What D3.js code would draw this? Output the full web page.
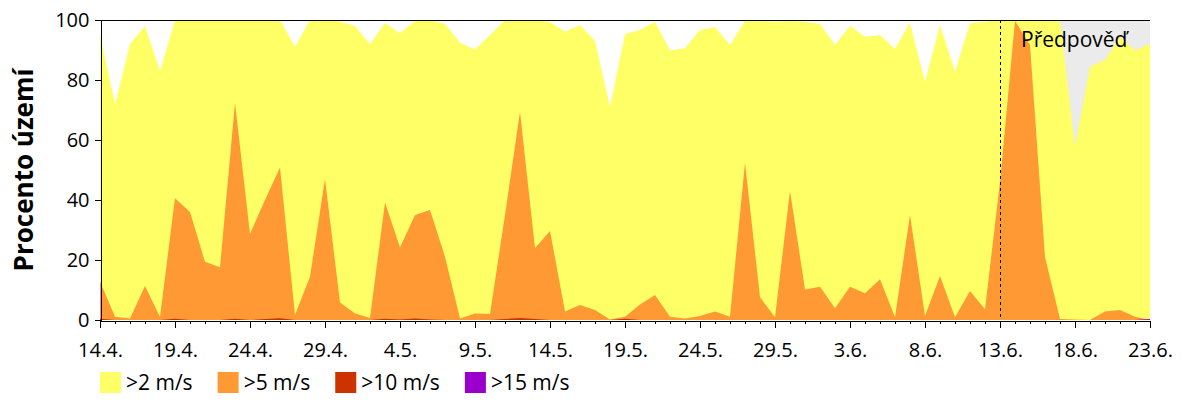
<!DOCTYPE html>
<html>
<head>
<meta charset="utf-8">
<script src="https://cdn.jsdelivr.net/npm/d3@7"></script>
<style>
body { margin: 0; background: #fff; }
svg { display: block; font-family: "Open Sans", sans-serif; }
</style>
</head>
<body>
<svg id="chart" width="1200" height="400"></svg>
<script>
// daily values, 14.4. - 23.6.
const days = d3.utcDay.range(new Date(Date.UTC(2020, 3, 14)), new Date(Date.UTC(2020, 5, 24)));
const forecastFrom = new Date(Date.UTC(2020, 5, 13));

const wind2 = [95, 72, 92, 98, 83, 100, 100, 100, 100, 100, 100, 100, 100, 91, 100, 100, 99.5, 98, 92, 99,
    95.6, 99.7, 100, 98.7, 92.4, 90.2, 95, 100, 100, 100, 99.3, 96.1, 98.3, 93, 71, 95.3, 96.7, 99.4, 89.8, 90.6,
    96.7, 97.6, 91.7, 99.7, 99.7, 99.4, 99.7, 99.4, 98.7, 91.7, 98, 94.4, 95, 90.3, 99.1, 79.4, 98.3, 82.8, 98.9, 99.4,
    100, 100, 100, 100, 100, 57.8, 84.4, 86.7, 94.4, 89.8, 92.2];
const wind5 = [12.8, 1.1, 0.5, 11.3, 1, 40.6, 36, 19.4, 17.6, 72.4, 28.7, 40, 50.8, 1.7, 14.4, 47, 5.8, 2.2, 0.7, 39.2,
    24.2, 35, 36.7, 21.1, 0.5, 2.2, 2, 35, 69.4, 23.9, 29.7, 2.8, 5, 3.3, 0.2, 1.1, 5.2, 8.3, 1.1, 0.5,
    1.3, 2.8, 1.1, 52.4, 7.6, 0.9, 43, 10.2, 11.1, 3.9, 11.1, 8.9, 13.6, 0.9, 35, 1.3, 14.7, 0.9, 9.7, 3.6,
    46, 99.7, 91.7, 21, 0.3, 0.2, 0, 2.8, 3.3, 1.1, 0];
const wind10 = [0.4, 0, 0, 0, 0, 0.4, 0, 0, 0, 0.4, 0, 0.3, 0.6, 0, 0, 0, 0, 0, 0, 0.4,
    0.2, 0.5, 0.2, 0, 0, 0, 0, 0.3, 0.7, 0.3, 0, 0, 0, 0, 0, 0.4, 0, 0, 0, 0,
    0, 0, 0, 0, 0, 0, 0, 0, 0, 0, 0, 0, 0, 0, 0, 0, 0, 0, 0, 0,
    0, 0, 0, 0, 0, 0, 0, 0, 0, 0, 0];
const wind15 = [0, 0, 0, 0, 0, 0, 0, 0, 0, 0, 0, 0, 0, 0, 0, 0, 0, 0, 0, 0,
    0, 0, 0, 0, 0, 0, 0, 0, 0, 0, 0, 0, 0, 0, 0, 0, 0, 0, 0, 0,
    0, 0, 0, 0, 0, 0, 0, 0, 0, 0, 0, 0, 0, 0, 0, 0, 0, 0, 0, 0,
    0, 0, 0, 0, 0, 0, 0, 0, 0, 0, 0.3];

const seriesLabels = [">2 m/s", ">5 m/s", ">10 m/s", ">15 m/s"];
const seriesColors = ["#ffff66", "#ff9933", "#cc3300", "#9900cc"];
const yTicks = [0, 20, 40, 60, 80, 100];

const series = [wind2, wind5, wind10, wind15].map((values, i) => ({
    label: seriesLabels[i], color: seriesColors[i], values
}));

const svg = d3.select("#chart");
const x = d3.scaleUtc().domain(d3.extent(days)).range([100, 1150]);
const y = d3.scaleLinear().domain([0, 100]).range([320, 20]);

// forecast background
svg.append("rect")
    .attr("x", x(forecastFrom)).attr("y", y(100))
    .attr("width", x.range()[1] - x(forecastFrom)).attr("height", y(0) - y(100))
    .attr("fill", "#ebebeb");

const area = d3.area()
    .x((d, i) => x(days[i]))
    .y0(y(0))
    .y1(d => y(d));

svg.append("g").selectAll("path")
    .data(series)
    .join("path")
    .attr("fill", d => d.color)
    .attr("d", d => area(d.values));

// forecast divider
svg.append("line")
    .attr("x1", x(forecastFrom)).attr("x2", x(forecastFrom))
    .attr("y1", y(100)).attr("y2", y(0))
    .attr("stroke", "#000").attr("stroke-dasharray", "3,3")
    .attr("shape-rendering", "crispEdges");

svg.append("text")
    .attr("x", 1021).attr("y", 47)
    .attr("font-size", 21).attr("fill", "#000")
    .text("Předpověď");

// top border
svg.append("line")
    .attr("x1", 100).attr("x2", 1150).attr("y1", 20.5).attr("y2", 20.5)
    .attr("stroke", "#000");

svg.append("g")
    .attr("transform", "translate(100.5,0)")
    .call(d3.axisLeft(y).tickValues(yTicks).tickSize(6).tickPadding(5).tickSizeOuter(0));

const majorDays = days.filter((d, i) => i % 5 === 0);
const xMinor = svg.append("g")
    .attr("transform", "translate(0,320.5)")
    .call(d3.axisBottom(x).tickValues(days).tickSize(3).tickFormat(""));
xMinor.select(".domain").remove();

svg.append("g")
    .attr("transform", "translate(0,320.5)")
    .call(d3.axisBottom(x).tickValues(majorDays).tickFormat(d3.utcFormat("%-d.%-m.")).tickSize(7).tickPadding(15).tickSizeOuter(0));

svg.selectAll(".tick text").attr("font-size", 20).attr("font-family", "Open Sans").attr("fill", "#000");
svg.selectAll(".domain, .tick line").attr("stroke", "#000").attr("shape-rendering", "crispEdges");

svg.append("text")
    .attr("transform", "translate(33,170) rotate(-90)")
    .attr("text-anchor", "middle")
    .attr("font-size", 26).attr("font-weight", "bold").attr("fill", "#000")
    .text("Procento území");

// legend
const legend = svg.append("g");
let lx = 100;
series.forEach(s => {
    legend.append("rect")
        .attr("x", lx).attr("y", 372).attr("width", 21).attr("height", 21)
        .attr("fill", s.color);
    const t = legend.append("text")
        .attr("x", lx + 26).attr("y", 383).attr("dy", "0.35em")
        .attr("font-size", 21).attr("fill", "#000")
        .text(s.label);
    lx += 26 + t.node().getComputedTextLength() + 25;
});
</script>
</body>
</html>
